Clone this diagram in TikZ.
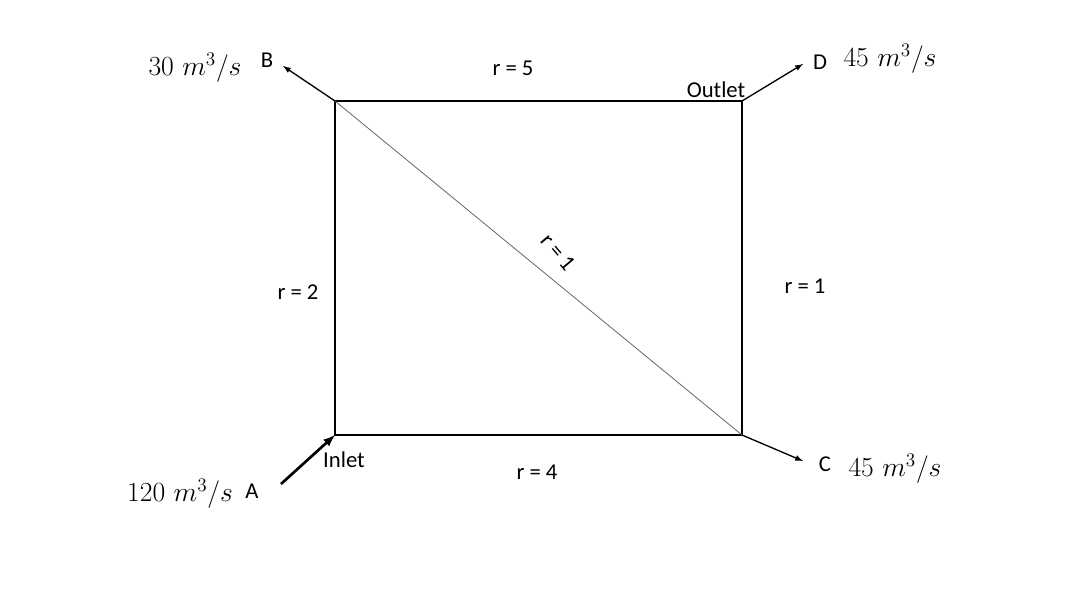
\documentclass[tikz,border=0pt]{standalone}
\usepackage{fontspec}
\setsansfont{Carlito}
\usetikzlibrary{calc,arrows}

\begin{document}
\begin{tikzpicture}[x=0.75pt,y=-0.75pt,
	lbl/.style={font=\sffamily\fontsize{17}{19}\selectfont, inner sep=0pt},
	flow/.style={font=\fontsize{20.74}{22}\selectfont, inner sep=0pt}]
				\useasboundingbox (0,0) rectangle (1085,597);
				% network corners
				\coordinate (inlet) at (335,435);
				\coordinate (nodeB) at (335,101);
				\coordinate (outlet) at (742,101);
				\coordinate (nodeC) at (742,435);
				\draw[line width=1.5pt] (inlet) -- (nodeB) -- (outlet) -- (nodeC) -- cycle;
				\draw[gray!80!black, line width=0.6pt] (nodeB) -- (nodeC);
				% flow arrows
				\coordinate (endB) at (283,66);
				\coordinate (endD) at (803,64);
				\coordinate (endC) at (803,461);
				\coordinate (startA) at (281,484);
				\draw[-latex, line width=1pt] (nodeB) -- (endB);
				\draw[-latex, line width=1pt] (outlet) -- (endD);
				\draw[-latex, line width=1pt] (nodeC) -- (endC);
				\draw[-latex, line width=2pt] (startA) -- (inlet);
				% letters and flows
				\node[lbl] (B) at (267,60) {B};
				\node[lbl] (D) at (820,62) {D};
				\node[lbl] (C) at (825,464) {C};
				\node[lbl] (A) at (252,491) {A};
				\node[flow] (qB) at (195,68) {$30\ m^3/s$};
				\node[flow] (qD) at (890,59) {$45\ m^3/s$};
				\node[flow] (qC) at (895,469) {$45\ m^3/s$};
				\node[flow] (qA) at (180,494) {$120\ m^3/s$};
				% resistances
				\node[lbl] (r5) at (513,68) {r = 5};
				\node[lbl] (r2) at (298,292) {r = 2};
				\node[lbl] (r1) at (805,286) {r = 1};
				\node[lbl] (r4) at (537,472) {r = 4};
				\node[lbl, rotate=-50] (rd) at (558,252) {r = 1};
				\node[lbl] (out) at (716,90) {Outlet};
				\node[lbl] (in) at (344,460) {Inlet};
			\end{tikzpicture}
\end{document}
